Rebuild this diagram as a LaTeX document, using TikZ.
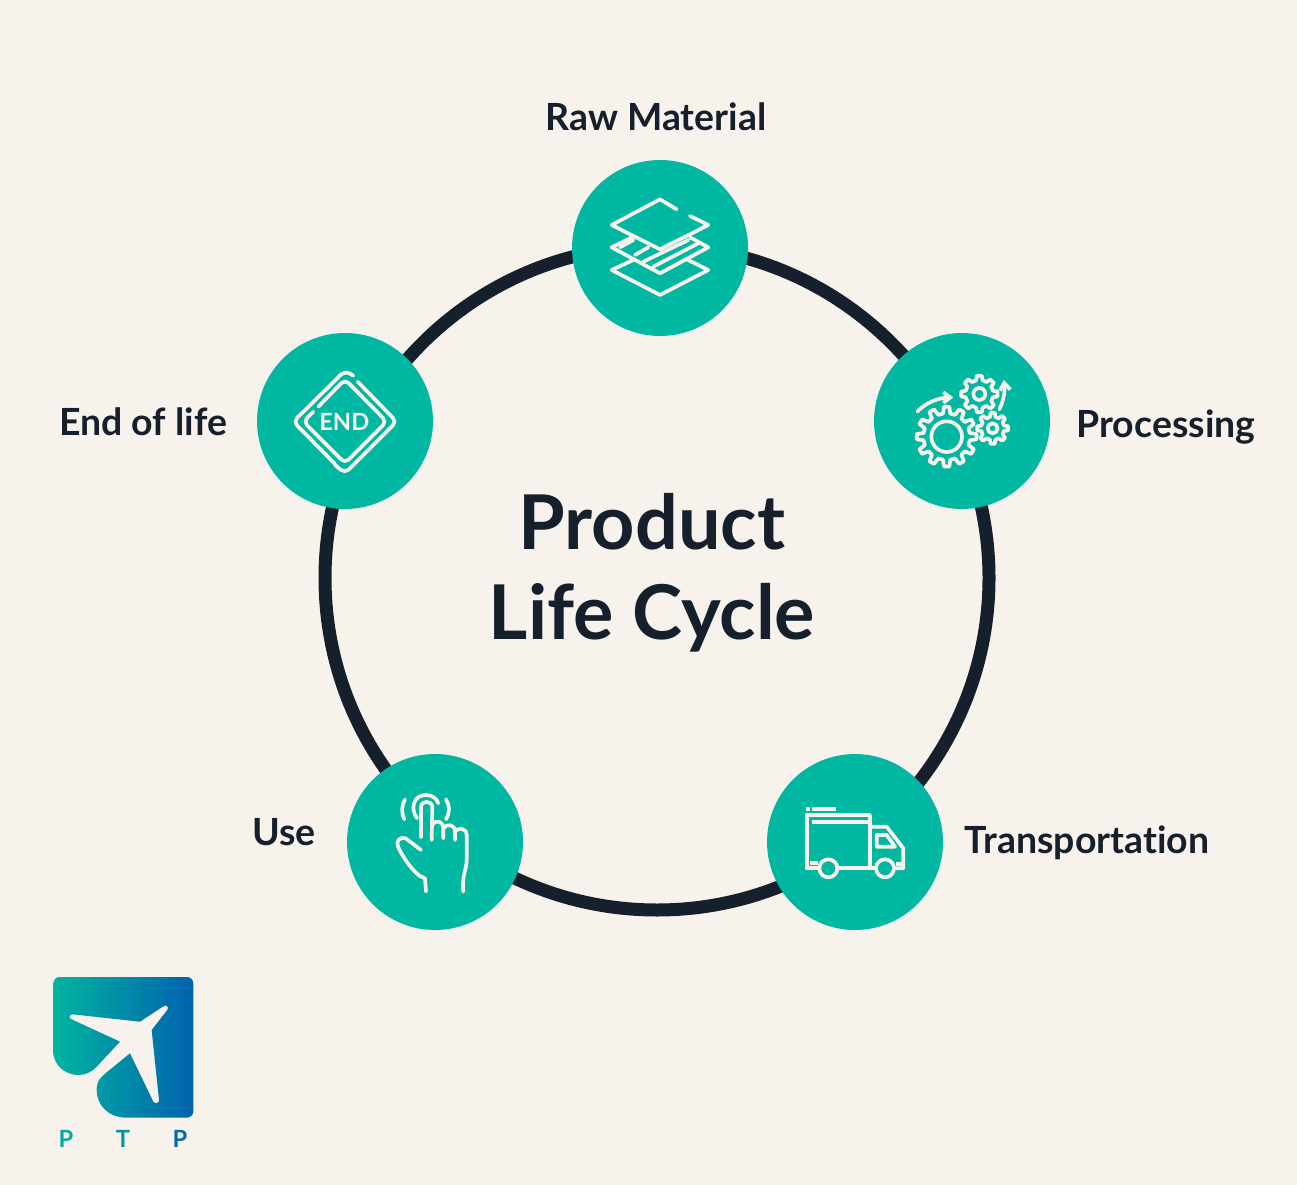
\documentclass[tikz,border=0pt]{standalone}
\usepackage{fontspec}
\setmainfont{Lato}[Ligatures=NoCommon]
\usepackage{tikz}
\usetikzlibrary{arrows.meta,calc,positioning}
\definecolor{paperbg}{RGB}{247,243,236}
\definecolor{ringdark}{RGB}{22,32,44}
\definecolor{tealcell}{RGB}{0,183,162}
\definecolor{logoA}{RGB}{0,180,160}
\definecolor{logoB}{RGB}{0,98,175}
\tikzset{
  stagenode/.style={circle, fill=tealcell, minimum size=3.52cm, inner sep=0pt},
  stagelabel/.style={text=ringdark, font=\fontsize{21.3}{25}\selectfont\bfseries},
  iconline/.style={draw=paperbg, line width=2.1pt, line cap=round, line join=round},
  logoletter/.style={font=\fontsize{13.5}{15}\selectfont\bfseries}
}
% one gear: centre x, centre y, tip radius, root radius, hole radius, teeth
\newcommand{\gearicon}[6]{
  \pgfmathsetmacro{\gstep}{360/#6}
  \foreach \t in {1,...,#6} {
    \pgfmathsetmacro{\ga}{\t*\gstep}
    \draw[iconline] ({#1+#4*cos(\ga-0.30*\gstep)},{#2+#4*sin(\ga-0.30*\gstep)})
      -- ({#1+#3*cos(\ga-0.17*\gstep)},{#2+#3*sin(\ga-0.17*\gstep)})
      -- ({#1+#3*cos(\ga+0.17*\gstep)},{#2+#3*sin(\ga+0.17*\gstep)})
      -- ({#1+#4*cos(\ga+0.30*\gstep)},{#2+#4*sin(\ga+0.30*\gstep)})
      -- ({#1+#4*cos(\ga+0.70*\gstep)},{#2+#4*sin(\ga+0.70*\gstep)});
  }
  \draw[iconline] (#1,#2) circle (#5);
}
\begin{document}
\begin{tikzpicture}[x=0.02cm, y=-0.02cm]
  \useasboundingbox (0,0) rectangle (1297,1185);
  \fill[paperbg] (0,0) rectangle (1297,1185);
  \coordinate (hub) at (657,578);
  \draw[ringdark, line width=7.4pt] (hub) circle (332);

  \node[stagenode] (raw) at (660,248) {};
  \node[stagenode] (proc) at (962,421) {};
  \node[stagenode] (trans) at (855,842) {};
  \node[stagenode] (use) at (435,842) {};
  \node[stagenode] (eol) at (345,421) {};

  \node[stagelabel] (rawlabel) at (656,117) {Raw Material};
  \node[stagelabel] (proclabel) at (1166,427) {Processing};
  \node[stagelabel] (translabel) at (1087,843) {Transportation};
  \node[stagelabel] (uselabel) at (284,832) {Use};
  \node[stagelabel] (eollabel) at (143,422) {End of life};
  \node[text=ringdark, align=center, font=\fontsize{43}{51.5}\selectfont\bfseries] (title) at (652,573) {Product\\Life Cycle};

  % layers
  \begin{scope}[shift={(570,160)}, scale=0.3333]
    \draw[iconline] (320,148) -- (270,118) -- (125,195) -- (270,268) -- (415,195) -- (360,168);
    \draw[iconline] (190,230) -- (125,262) -- (270,340) -- (415,262) -- (360,232);
    \draw[iconline] (190,300) -- (125,330) -- (270,405) -- (415,330) -- (350,298);
    \draw[iconline] (150,262) -- (190,240);
    \draw[iconline] (195,285) -- (235,262);
    \draw[iconline] (220,305) -- (355,240);
    \draw[iconline] (250,320) -- (385,250);
  \end{scope}

  % gears
  \begin{scope}[shift={(870,330)}, scale=0.3333]
    \gearicon{230}{320}{90}{70}{46}{12}
    \gearicon{328}{192}{55}{42}{18}{8}
    \gearicon{368}{295}{47}{35}{15}{8}
    \draw[iconline, -{Straight Barb[length=4pt,width=6pt]}] (142,245) .. controls (170,215) and (210,203) .. (250,202);
    \draw[iconline, -{Straight Barb[length=4pt,width=6pt]}] (388,238) .. controls (402,210) and (405,180) .. (402,150);
  \end{scope}

  % truck
  \begin{scope}[shift={(765,750)}, scale=0.3333]
    \draw[iconline, line cap=butt] (160,355) -- (125,355) -- (125,195) -- (315,195) -- (315,355) -- (220,355);
    \draw[iconline, line cap=butt] (330,355) -- (315,355);
    \draw[iconline, line cap=butt] (320,230) -- (365,230) -- (415,295) -- (415,355) -- (390,355);
    \draw[iconline, line cap=butt] (335,255) -- (365,255) -- (390,290) -- (335,290) -- cycle;
    \draw[iconline] (190,355) circle (27);
    \draw[iconline] (360,355) circle (27);
    \draw[iconline, line cap=butt] (142,178) -- (212,178);
    \draw[iconline, line cap=butt] (122,178) -- (134,178);
    \draw[iconline, line cap=butt] (142,215) -- (310,215);
    \draw[iconline, line cap=butt] (135,340) -- (160,340);
    \draw[iconline, line cap=butt] (392,343) -- (415,343);
  \end{scope}

  % hand
  \begin{scope}[shift={(345,750)}, scale=0.3333]
    \draw[iconline] (228,300) -- (182,265) .. controls (165,258) and (150,275) .. (160,292)
      .. controls (175,325) and (205,365) .. (225,378) -- (240,385) -- (243,425);
    \draw[iconline] (228,262) -- (228,172) .. controls (228,150) and (262,150) .. (262,172) -- (260,270);
    \draw[iconline] (262,225) .. controls (270,208) and (295,212) .. (295,235) -- (295,265);
    \draw[iconline] (295,235) .. controls (305,220) and (330,222) .. (330,245) -- (330,270);
    \draw[iconline] (330,245) .. controls (340,230) and (365,235) .. (365,255) -- (365,330)
      .. controls (365,360) and (350,375) .. (355,425);
    \draw[iconline] (216,205) .. controls (195,175) and (205,135) .. (243,135) .. controls (262,135) and (275,145) .. (280,160);
    \draw[iconline] (178,208) .. controls (168,190) and (170,165) .. (180,148);
    \draw[iconline] (303,148) .. controls (315,165) and (315,190) .. (303,208);
  \end{scope}

  % end sign
  \begin{scope}[shift={(255,330)}, scale=0.3333]
    \draw[iconline, rounded corners=3pt] (240,402) -- (115,275) -- (270,122) -- (295,137);
    \draw[iconline, rounded corners=3pt] (308,155) -- (425,275) -- (270,430) -- (240,405);
    \draw[iconline, rounded corners=3pt] (175,245) -- (145,275) -- (270,400) -- (395,275) -- (270,148) -- (190,230);
    \node[text=paperbg, font=\fontsize{13.5}{15}\selectfont\bfseries] (endword) at (268,275) {END};
  \end{scope}

  % logo
  \begin{scope}[shift={(40,965)}, scale=0.3333]
    \shade[left color=logoA, right color=logoB] (60,36) -- (440,36)
      .. controls (452,36) and (460,44) .. (460,56) -- (460,438)
      .. controls (460,450) and (452,458) .. (440,458) -- (260,458)
      .. controls (205,458) and (170,420) .. (170,375)
      .. controls (170,345) and (185,335) .. (200,322) -- (270,265) -- (340,410)
      .. controls (345,418) and (358,415) .. (357,405) -- (335,195) -- (382,135)
      .. controls (388,125) and (378,118) .. (370,124) -- (300,170) -- (98,148)
      .. controls (88,148) and (85,158) .. (95,163) -- (240,230) -- (170,305)
      .. controls (155,322) and (135,330) .. (115,330)
      .. controls (75,330) and (40,300) .. (40,260) -- (40,56)
      .. controls (40,44) and (48,36) .. (60,36) -- cycle;
  \end{scope}
  \node[logoletter, text=logoA!90!logoB] (logoP) at (66,1139) {P};
  \node[logoletter, text=logoA!65!logoB] (logoT) at (123,1139) {T};
  \node[logoletter, text=logoA!10!logoB] (logoQ) at (180,1139) {P};
\end{tikzpicture}
\end{document}
